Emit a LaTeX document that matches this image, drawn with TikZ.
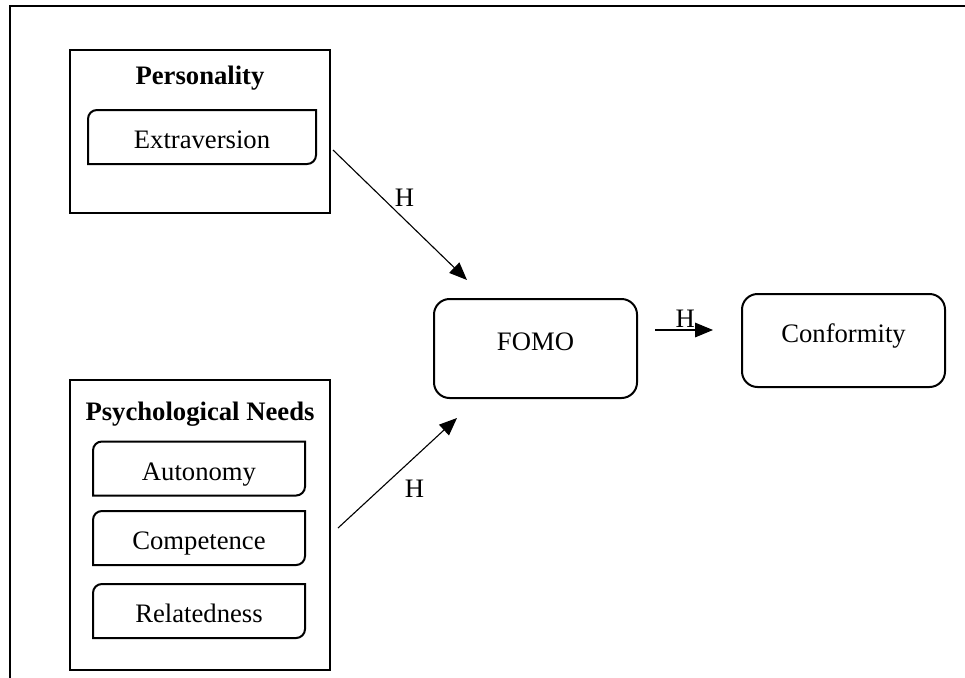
\documentclass[tikz,border=0pt]{standalone}
\usepackage{fontspec}
\setmainfont{Liberation Serif}
\usetikzlibrary{arrows.meta}
\newcommand\pxu{0.45pt}

\begin{document}
\begin{tikzpicture}[x=\pxu,y=-\pxu,font=\fontsize{12}{14}\selectfont,
    frame/.style={line width=0.9pt},
    groupbox/.style={draw,frame,inner sep=0,outer sep=0,minimum width={260*\pxu}},
    mainbox/.style={draw,frame,rounded corners=7pt,inner sep=0,outer sep=0,
        minimum width={203*\pxu},text height=8pt,text depth=6pt},
    diagbox/.style={inner sep=0,outer sep=0,minimum height={54*\pxu},
        text height=12pt,text depth=1.4pt},
    hyp/.style={line width=0.5pt,-{Triangle[length=8pt,width=6.5pt]}}]
    \useasboundingbox (0,0) rectangle (965,677);
    \draw[line width=1.1pt] (10,680) -- (10,6) -- (968,6);

    \node[groupbox,minimum height={163*\pxu}] (pers) at (200,131.5) {};
    \node[anchor=base,font=\fontsize{12}{14}\selectfont\bfseries] (perstitle) at (200,84) {Personality};
    \node[diagbox,minimum width={228*\pxu}] (extra) at (202,137) {Extraversion};

    \node[groupbox,minimum height={290*\pxu}] (needs) at (200,525) {};
    \node[anchor=base,font=\fontsize{12}{14}\selectfont\bfseries] (needstitle) at (200,420) {Psychological Needs};
    \node[diagbox,minimum width={212*\pxu}] (auto) at (199,468.5) {Autonomy};
    \node[diagbox,minimum width={212*\pxu}] (comp) at (199,538) {Competence};
    \node[diagbox,minimum width={212*\pxu}] (rel) at (199,611) {Relatedness};

    \foreach \n in {extra,auto,comp,rel}
        \draw[frame] ([yshift=-4pt]\n.north west) arc[start angle=180,end angle=90,radius=4pt]
            -- (\n.north east) -- ([yshift=4pt]\n.south east)
            arc[start angle=0,end angle=-90,radius=4pt] -- (\n.south west) -- cycle;

    \node[mainbox,minimum height={99*\pxu}] (fomo) at (535.5,348.5) {FOMO};
    \node[mainbox,minimum height={93*\pxu}] (conf) at (843.5,340.5) {Conformity};

    \draw[hyp] ([shift={(3,18.5)}]pers.east) -- node[pos=0.37,right,xshift=2pt] {H} ([shift={(33,-19)}]fomo.north west);
    \draw[hyp] ([shift={(8,3)}]needs.east) -- node[pos=0.355,right,xshift=7.5pt] {H} ([shift={(23,20)}]fomo.south west);
    \draw[hyp] ([shift={(18,-18.5)}]fomo.east) -- node[pos=0.52,above,inner sep=1pt] {H} ([shift={(-29,-10.5)}]conf.west);
\end{tikzpicture}
\end{document}
